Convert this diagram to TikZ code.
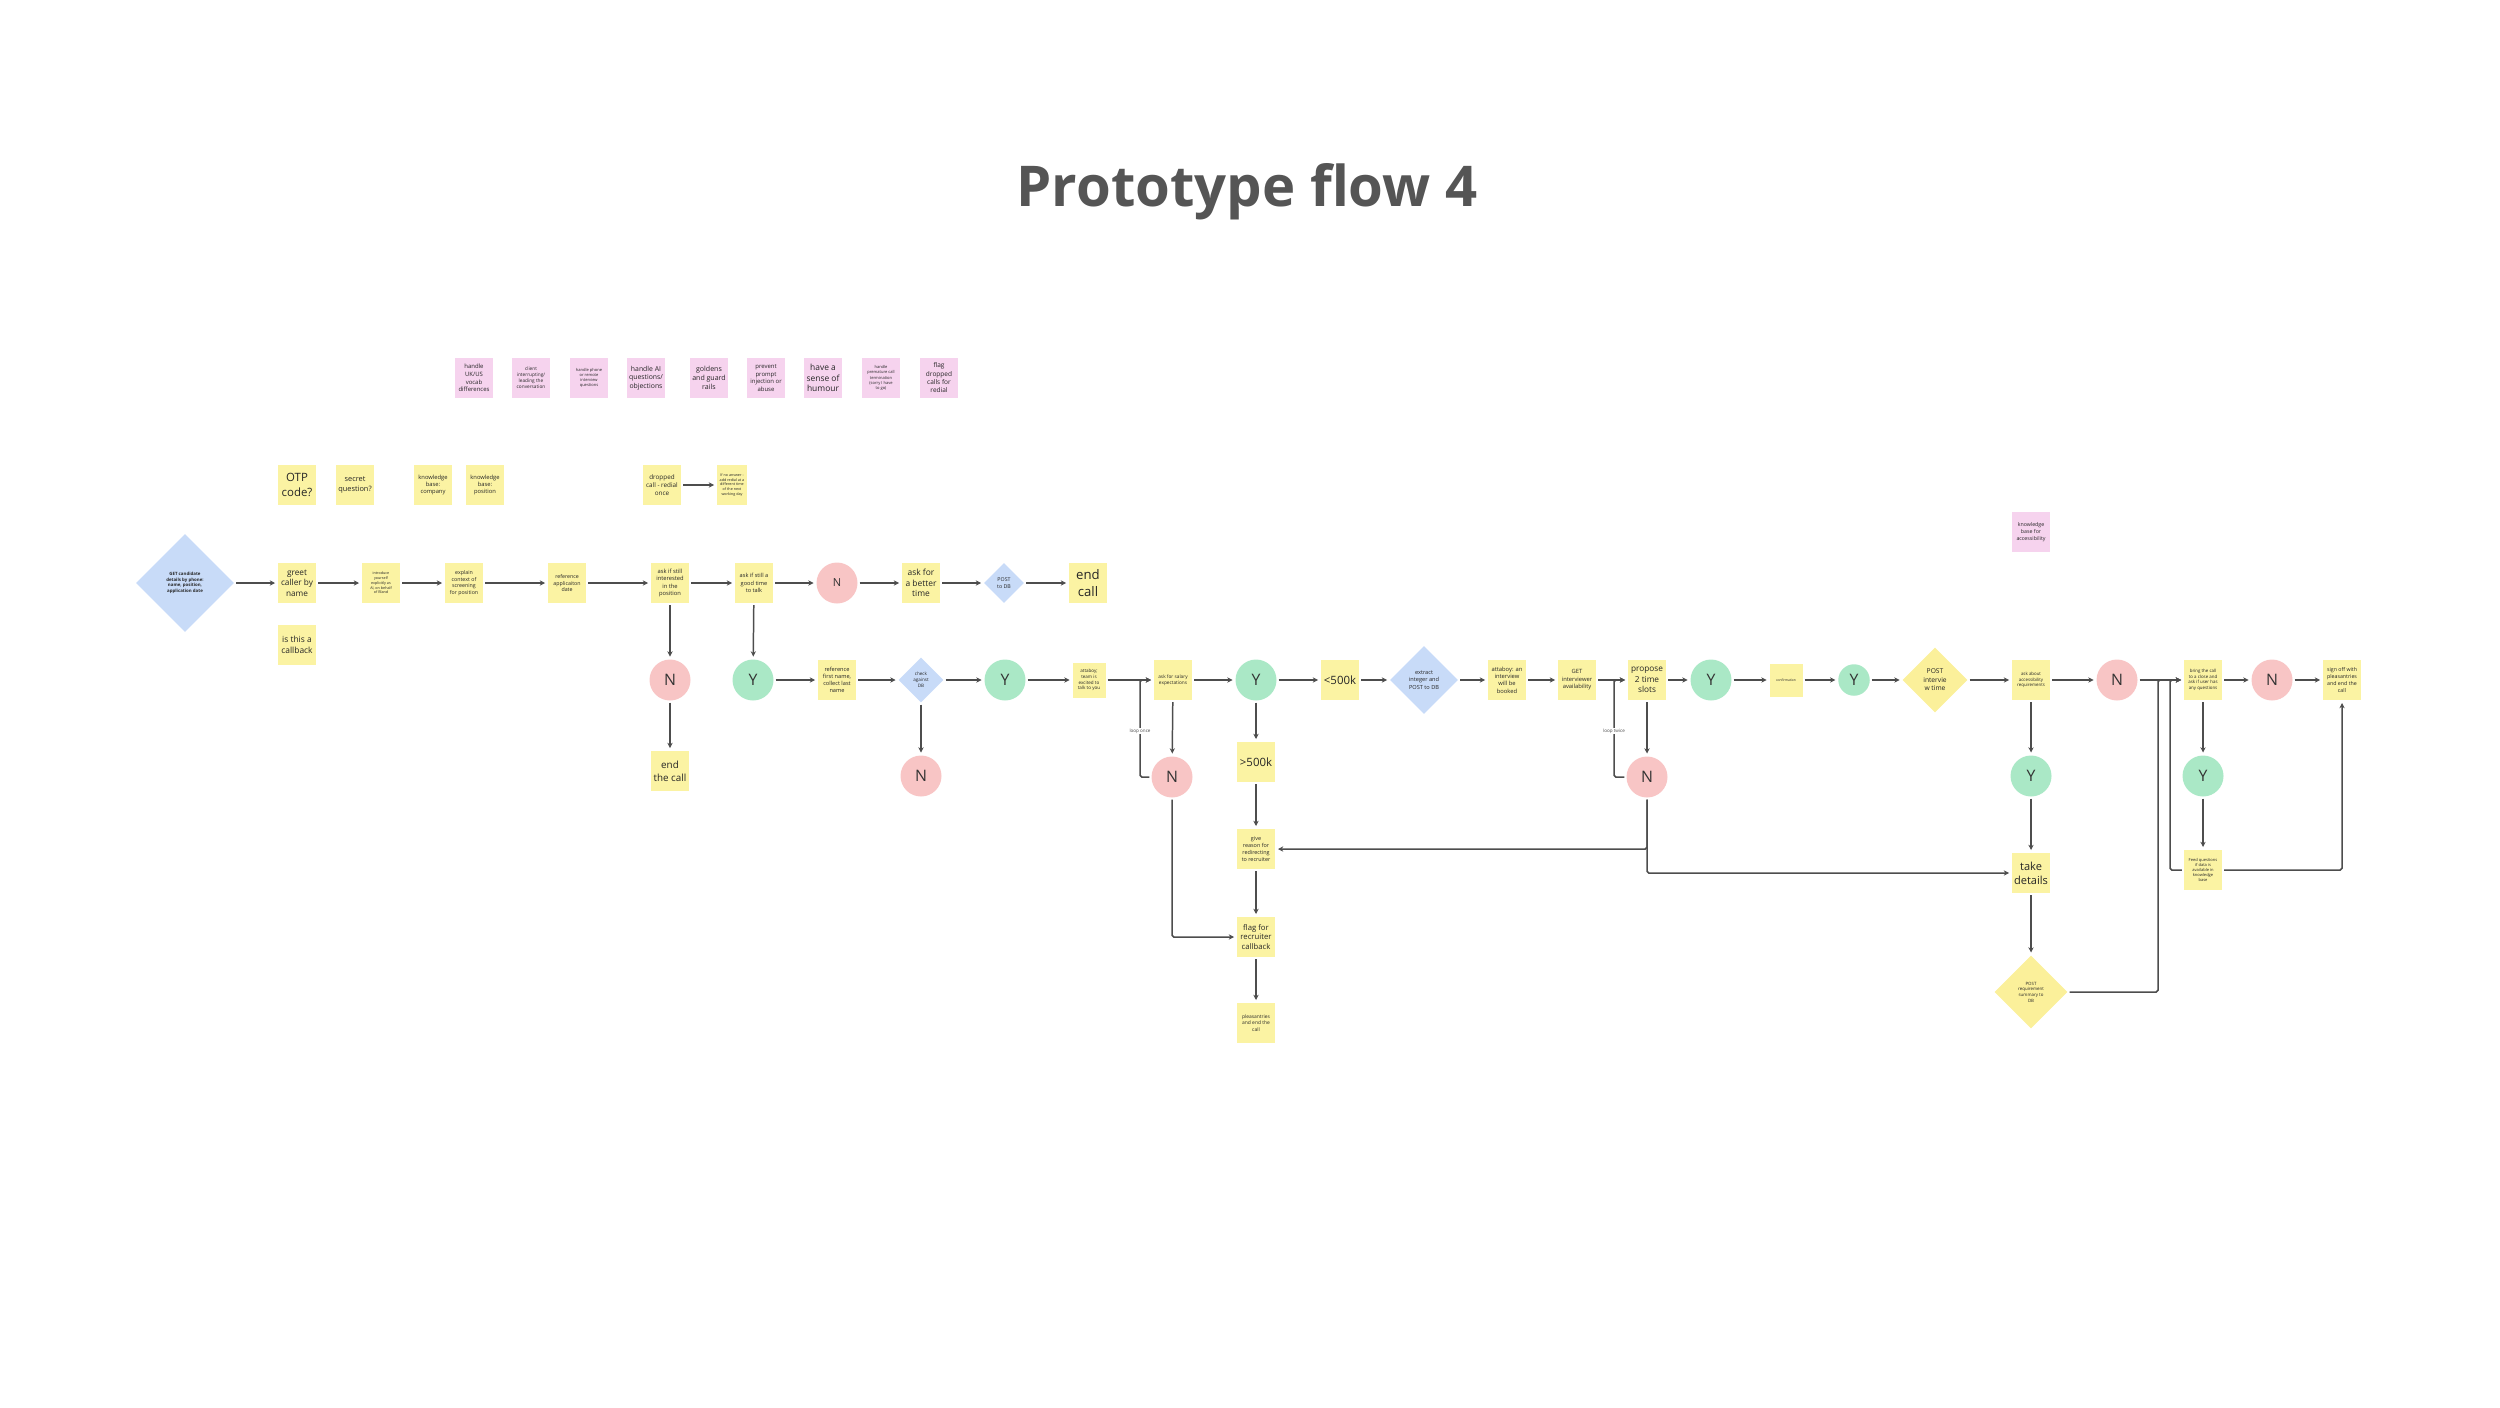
\documentclass[tikz,border=0pt]{standalone}
\usepackage{fontspec}
\setmainfont{Open Sans}
\usetikzlibrary{arrows.meta,shapes.geometric}
\definecolor{stickyyellow}{HTML}{FBF3A3}
\definecolor{stickypink}{HTML}{F6D3EE}
\definecolor{nored}{HTML}{F8C5C5}
\definecolor{yesgreen}{HTML}{AAE8C6}
\definecolor{dbblue}{HTML}{C8DBF8}
\definecolor{postyellow}{HTML}{FBF09A}
\definecolor{linegray}{HTML}{4D4D4D}
\definecolor{titlegray}{HTML}{555555}
\newcommand\notefs[1]{\fontsize{#1}{\fpeval{1.28*#1}}\selectfont}
\tikzset{
  note/.style={fill=stickyyellow, minimum width=0.76cm, minimum height=0.8cm, inner sep=0pt, align=center, text=black!85},
  pnote/.style={note, fill=stickypink},
  nocirc/.style={circle, fill=nored, minimum size=0.82cm, inner sep=0pt, font=\notefs{9}, text=black!80},
  yescirc/.style={nocirc, fill=yesgreen},
  dbdia/.style={diamond, fill=dbblue, inner sep=0pt, align=center, minimum size=#1, text=black!85},
  postdia/.style={dbdia=#1, fill=postyellow},
  flow/.style={draw=linegray, line width=0.85pt, -{Stealth[length=3pt,width=3pt]}, shorten >=1.5pt, shorten <=1pt, rounded corners=1pt},
  looplbl/.style={fill=white, inner sep=0.6pt, font=\notefs{2.6}, text=black!70},
}
\begin{document}
\begin{tikzpicture}[x=0.02cm, y=-0.02cm]
\useasboundingbox (0,0) rectangle (2500,1407);
\node[anchor=base, font=\bfseries\fontsize{32}{38}\selectfont, text=titlegray] (title) at (1247,206) {Prototype flow 4};

\node[pnote, font=\notefs{3.4}] (uk) at (474,378) {handle\\UK/US\\vocab\\differences};
\node[pnote, font=\notefs{2.7}] (interrupt) at (531,378) {client\\interrupting/\\leading the\\conversation};
\node[pnote, font=\notefs{2.3}] (phone) at (589,378) {handle phone\\or remote\\interview\\questions};
\node[pnote, font=\notefs{3.9}] (aiq) at (646,378) {handle AI\\questions/\\objections};
\node[pnote, font=\notefs{4.0}] (goldens) at (709,378) {goldens\\and guard\\rails};
\node[pnote, font=\notefs{3.4}] (prompt) at (766,378) {prevent\\prompt\\injection or\\abuse};
\node[pnote, font=\notefs{4.8}] (humour) at (823,378) {have a\\sense of\\humour};
\node[pnote, font=\notefs{2.3}] (premature) at (881,378) {handle\\premature call\\termination\\(sorry I have\\to go)};
\node[pnote, font=\notefs{3.7}] (flagdrop) at (939,378) {flag\\dropped\\calls for\\redial};
\node[pnote, font=\notefs{3.0}] (kbacc) at (2031,532) {knowledge\\base for\\accessibility};

\node[note, font=\notefs{6.5}] (otp) at (297,485) {OTP\\code?};
\node[note, font=\notefs{4.2}] (secret) at (355,485) {secret\\question?};
\node[note, font=\notefs{3.3}] (kbcomp) at (433,485) {knowledge\\base:\\company};
\node[note, font=\notefs{3.3}] (kbpos) at (485,485) {knowledge\\base:\\position};
\node[note, font=\notefs{3.6}] (dropped) at (662,485) {dropped\\call - redial\\once};
\node[note, font=\notefs{2.1}, minimum width=0.6cm] (noanswer) at (732,485) {If no answer -\\add redial at a\\different time\\of the next\\working day};

\node[dbdia=1.96cm, font=\bfseries\notefs{2.5}] (getcand) at (185,583) {GET candidate\\details by phone:\\name, position,\\application date};
\node[note, font=\notefs{4.7}] (greet) at (297,583) {greet\\caller by\\name};
\node[note, font=\notefs{2.1}] (intro) at (381,583) {introduce\\yourself\\explicitly as\\AI, on behalf\\of Bland};
\node[note, font=\notefs{3.0}] (explain) at (464,583) {explain\\context of\\screening\\for position};
\node[note, font=\notefs{3.0}] (refapp) at (567,583) {reference\\applicaiton\\date};
\node[note, font=\notefs{3.3}] (askint) at (670,583) {ask if still\\interested\\in the\\position};
\node[note, font=\notefs{3.2}] (asktime) at (754,583) {ask if still a\\good time\\to talk};
\node[nocirc, font=\notefs{6.3}] (nbusy) at (837,583) {N};
\node[note, font=\notefs{4.8}] (better) at (921,583) {ask for\\a better\\time};
\node[dbdia=0.8cm, font=\notefs{3.0}] (postdb) at (1004,583) {POST\\to DB};
\node[note, font=\notefs{7.5}] (endcall) at (1088,583) {end\\call};
\node[note, font=\notefs{4.8}] (callback) at (297,645) {is this a\\callback};

\node[nocirc] (nint) at (670,680) {N};
\node[note, font=\notefs{5.6}] (endthe) at (670,771) {end\\the call};
\node[yescirc] (ytime) at (753,680) {Y};
\node[note, font=\notefs{3.2}] (reffirst) at (837,680) {reference\\first name,\\collect last\\name};
\node[dbdia=0.9cm, font=\notefs{2.6}] (checkdb) at (921,680) {check\\against\\DB};
\node[nocirc] (ncheck) at (921,776) {N};
\node[yescirc] (ycheck) at (1005,680) {Y};
\node[note, font=\notefs{2.6}, minimum width=0.66cm, minimum height=0.7cm] (attaboy) at (1089,680) {attaboy;\\team is\\excited to\\talk to you};
\node[note, font=\notefs{2.7}] (salary) at (1173,680) {ask for salary\\expectations};
\node[nocirc] (nsalary) at (1172,777) {N};
\node[yescirc] (ysalary) at (1256,680) {Y};
\node[note, font=\notefs{6.5}] (lt500) at (1340,680) {<500k};
\node[note, font=\notefs{6.5}] (gt500) at (1256,762) {>500k};
\node[note, font=\notefs{3.1}] (reason) at (1256,849) {give\\reason for\\redirecting\\to recruiter};
\node[note, font=\notefs{4.4}] (flag) at (1256,937) {flag for\\recruiter\\callback};
\node[note, font=\notefs{2.8}] (pleas) at (1256,1023) {pleasantries\\and end the\\call};
\node[dbdia=1.36cm, font=\notefs{3.2}] (extract) at (1424,680) {extract\\integer and\\POST to DB};
\node[note, font=\notefs{3.3}] (booked) at (1507,680) {attaboy: an\\interview\\will be\\booked};
\node[note, font=\notefs{3.3}] (getint) at (1577,680) {GET\\interviewer\\availability};
\node[note, font=\notefs{4.7}] (propose) at (1647,680) {propose\\2 time\\slots};
\node[nocirc] (nslots) at (1647,777) {N};
\node[yescirc] (yslots) at (1711,680) {Y};
\node[note, font=\notefs{1.9}, minimum width=0.66cm, minimum height=0.66cm] (confirm) at (1786,680) {confirmation};
\node[yescirc, minimum size=0.63cm] (yconfirm) at (1854,680) {Y};
\node[postdia=1.3cm, font=\notefs{3.8}] (postint) at (1935,680) {POST\\intervie\\w time};
\node[note, font=\notefs{2.5}] (askacc) at (2031,680) {ask about\\accessibility\\requirements};
\node[yescirc] (yacc) at (2031,776) {Y};
\node[note, font=\notefs{6.3}] (details) at (2031,873) {take\\details};
\node[postdia=1.46cm, font=\notefs{2.5}] (postreq) at (2031,992) {POST\\requirement\\summary to\\DB};
\node[nocirc] (nacc) at (2117,680) {N};
\node[note, font=\notefs{2.5}] (close) at (2203,680) {bring the call\\to a close and\\ask if user has\\any questions};
\node[yescirc] (yclose) at (2203,776) {Y};
\node[note, font=\notefs{2.3}] (feed) at (2203,870) {Feed questions\\if data is\\available in\\knowledge\\base};
\node[nocirc] (nclose) at (2272,680) {N};
\node[note, font=\notefs{3.0}] (signoff) at (2342,680) {sign off with\\pleasantries\\and end the\\call};

\draw[flow] (dropped) -- (noanswer);
\draw[flow] (getcand) -- (greet);
\draw[flow] (greet) -- (intro);
\draw[flow] (intro) -- (explain);
\draw[flow] (explain) -- (refapp);
\draw[flow] (refapp) -- (askint);
\draw[flow] (askint) -- (asktime);
\draw[flow] (asktime) -- (nbusy);
\draw[flow] (nbusy) -- (better);
\draw[flow] (better) -- (postdb);
\draw[flow] (postdb) -- (endcall);
\draw[flow] (askint) -- (nint);
\draw[flow] (nint) -- (endthe);
\draw[flow] (asktime) -- (ytime);
\draw[flow] (ytime) -- (reffirst);
\draw[flow] (reffirst) -- (checkdb);
\draw[flow] (checkdb) -- (ycheck);
\draw[flow] (checkdb) -- (ncheck);
\draw[flow] (ycheck) -- (attaboy);
\draw[flow] (attaboy) -- (salary);
\draw[flow] (salary) -- (nsalary);
\draw[flow] (nsalary.west) -| (1140,680) -- (salary.west);
\node[looplbl] (loop1) at (1140,731) {loop once};
\draw[flow] (nsalary.south) |- (flag.west);
\draw[flow] (salary) -- (ysalary);
\draw[flow] (ysalary) -- (lt500);
\draw[flow] (ysalary) -- (gt500);
\draw[flow] (gt500) -- (reason);
\draw[flow] (reason) -- (flag);
\draw[flow] (flag) -- (pleas);
\draw[flow] (lt500) -- (extract);
\draw[flow] (extract) -- (booked);
\draw[flow] (booked) -- (getint);
\draw[flow] (getint) -- (propose);
\draw[flow] (propose) -- (nslots);
\draw[flow] (nslots.west) -| (1614,680) -- (propose.west);
\node[looplbl] (loop2) at (1614,731) {loop twice};
\draw[flow] (nslots.south) |- (reason.east);
\draw[flow] (nslots.south) |- (details.west);
\draw[flow] (propose) -- (yslots);
\draw[flow] (yslots) -- (confirm);
\draw[flow] (confirm) -- (yconfirm);
\draw[flow] (yconfirm) -- (postint);
\draw[flow] (postint) -- (askacc);
\draw[flow] (askacc) -- (yacc);
\draw[flow] (yacc) -- (details);
\draw[flow] (details) -- (postreq);
\draw[flow] (askacc) -- (nacc);
\draw[flow] (nacc) -- (close);
\draw[flow] (postreq.east) -| (2158,680) -- (close.west);
\draw[flow] (close) -- (yclose);
\draw[flow] (yclose) -- (feed);
\draw[flow] (feed.west) -| (2170,680) -- (close.west);
\draw[flow] (feed.east) -| (signoff.south);
\draw[flow] (close) -- (nclose);
\draw[flow] (nclose) -- (signoff);
\end{tikzpicture}
\end{document}
